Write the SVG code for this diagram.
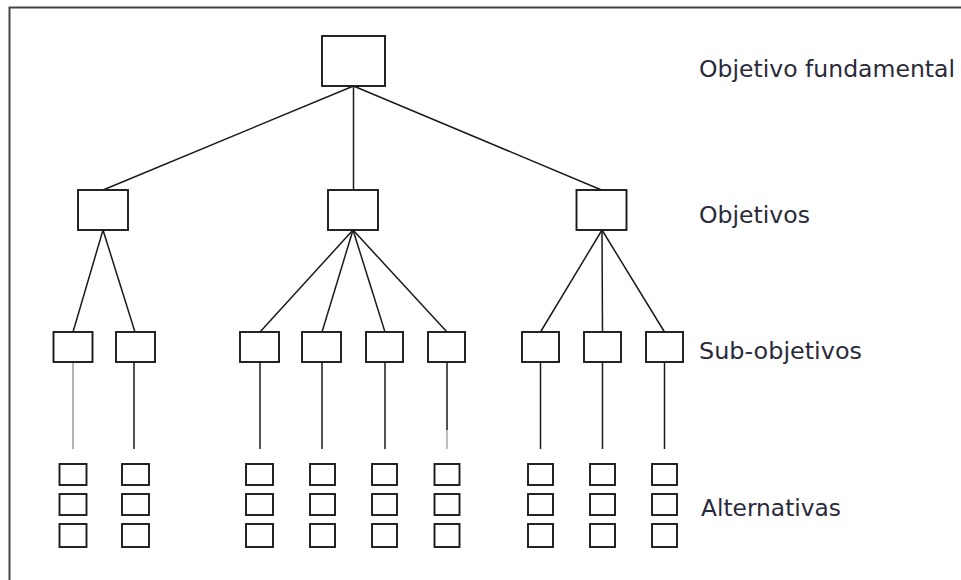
<svg xmlns="http://www.w3.org/2000/svg" width="961" height="580" viewBox="0 0 961 580">
<style>
.n{fill:#fff;stroke:#1a1a1a;stroke-width:1.9}
.c line{stroke:#1a1a1a;stroke-width:1.5}
.lbl{font-family:"DejaVu Sans",Verdana,sans-serif;font-size:22.5px;fill:#2a2a3a}
</style>
<rect width="961" height="580" fill="#fff"/>
<path id="frame" d="M9.5,580 V7.5 H961" fill="none" stroke="#444" stroke-width="2"/>
<g class="c" id="connectors">
<line x1="353.5" y1="86" x2="103" y2="190"/>
<line x1="353.5" y1="86" x2="353.5" y2="190"/>
<line x1="353.5" y1="86" x2="601.5" y2="190"/>
<line x1="103" y1="230" x2="73" y2="332"/>
<line x1="103" y1="230" x2="135" y2="332"/>
<line x1="353" y1="230" x2="260" y2="332"/>
<line x1="353" y1="230" x2="322" y2="332"/>
<line x1="353" y1="230" x2="385" y2="332"/>
<line x1="353" y1="230" x2="447" y2="332"/>
<line x1="602" y1="230" x2="540.5" y2="332"/>
<line x1="602" y1="230" x2="602.5" y2="332"/>
<line x1="602" y1="230" x2="664.5" y2="332"/>
<line x1="73" y1="362" x2="73" y2="449" style="stroke:#999"/>
<line x1="134" y1="362" x2="134" y2="449"/>
<line x1="260" y1="362" x2="260" y2="449"/>
<line x1="322" y1="362" x2="322" y2="449"/>
<line x1="385" y1="362" x2="385" y2="449"/>
<line x1="447" y1="362" x2="447" y2="430"/>
<line x1="447" y1="430" x2="447" y2="449" style="stroke:#aaa"/>
<line x1="540.5" y1="362" x2="540.5" y2="449"/>
<line x1="602.5" y1="362" x2="602.5" y2="449"/>
<line x1="664.5" y1="362" x2="664.5" y2="449"/>
</g>
<g id="n-root"><rect class="n" x="322" y="36" width="63" height="50"/></g>
<g id="n-o1"><rect class="n" x="78" y="190" width="50" height="40"/></g>
<g id="n-o2"><rect class="n" x="328" y="190" width="50" height="40"/></g>
<g id="n-o3"><rect class="n" x="576.5" y="190" width="50" height="40"/></g>
<g id="n-s1"><rect class="n" x="53.5" y="332" width="39" height="30"/></g>
<g id="n-s2"><rect class="n" x="116" y="332" width="39" height="30"/></g>
<g id="n-s3"><rect class="n" x="240" y="332" width="39" height="30"/></g>
<g id="n-s4"><rect class="n" x="302" y="332" width="39" height="30"/></g>
<g id="n-s5"><rect class="n" x="366" y="332" width="37" height="30"/></g>
<g id="n-s6"><rect class="n" x="428" y="332" width="37" height="30"/></g>
<g id="n-s7"><rect class="n" x="522" y="332" width="37" height="30"/></g>
<g id="n-s8"><rect class="n" x="584" y="332" width="37" height="30"/></g>
<g id="n-s9"><rect class="n" x="646" y="332" width="37" height="30"/></g>
<g id="alts">
<g id="a1"><rect class="n" x="59.5" y="464" width="27" height="21"/><rect class="n" x="59.5" y="494" width="27" height="21"/><rect class="n" x="59.5" y="524" width="27" height="23"/></g>
<g id="a2"><rect class="n" x="122" y="464" width="27" height="21"/><rect class="n" x="122" y="494" width="27" height="21"/><rect class="n" x="122" y="524" width="27" height="23"/></g>
<g id="a3"><rect class="n" x="246" y="464" width="27" height="21"/><rect class="n" x="246" y="494" width="27" height="21"/><rect class="n" x="246" y="524" width="27" height="23"/></g>
<g id="a4"><rect class="n" x="310" y="464" width="25" height="21"/><rect class="n" x="310" y="494" width="25" height="21"/><rect class="n" x="310" y="524" width="25" height="23"/></g>
<g id="a5"><rect class="n" x="372" y="464" width="25" height="21"/><rect class="n" x="372" y="494" width="25" height="21"/><rect class="n" x="372" y="524" width="25" height="23"/></g>
<g id="a6"><rect class="n" x="434.5" y="464" width="25" height="21"/><rect class="n" x="434.5" y="494" width="25" height="21"/><rect class="n" x="434.5" y="524" width="25" height="23"/></g>
<g id="a7"><rect class="n" x="528" y="464" width="25" height="21"/><rect class="n" x="528" y="494" width="25" height="21"/><rect class="n" x="528" y="524" width="25" height="23"/></g>
<g id="a8"><rect class="n" x="590" y="464" width="25" height="21"/><rect class="n" x="590" y="494" width="25" height="21"/><rect class="n" x="590" y="524" width="25" height="23"/></g>
<g id="a9"><rect class="n" x="652" y="464" width="25" height="21"/><rect class="n" x="652" y="494" width="25" height="21"/><rect class="n" x="652" y="524" width="25" height="23"/></g>
</g>
<g id="labels">
<text class="lbl" x="699" y="77" textLength="256" lengthAdjust="spacingAndGlyphs">Objetivo fundamental</text>
<text class="lbl" x="699" y="223" textLength="111" lengthAdjust="spacingAndGlyphs">Objetivos</text>
<text class="lbl" x="699" y="359" textLength="163" lengthAdjust="spacingAndGlyphs">Sub-objetivos</text>
<text class="lbl" x="701" y="516" textLength="140" lengthAdjust="spacingAndGlyphs">Alternativas</text>
</g>
</svg>
